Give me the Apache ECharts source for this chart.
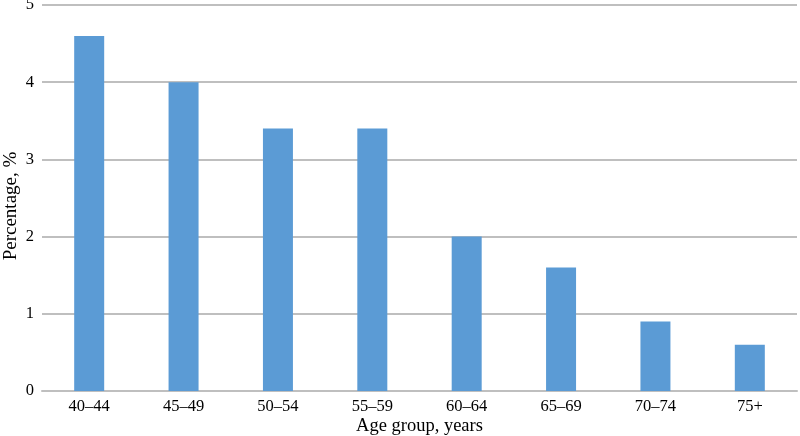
<!DOCTYPE html>
<html><head><meta charset="utf-8">
<script src="https://cdn.jsdelivr.net/npm/echarts@6/dist/echarts.min.js"></script>
<style>html,body{margin:0;padding:0;background:#fff}#c{width:800px;height:436px}</style>
</head><body><div id="c"></div>
<script>
const categories = ["40–44","45–49","50–54","55–59","60–64","65–69","70–74","75+"];
const values = [4.6, 4.0, 3.4, 3.4, 2.0, 1.6, 0.9, 0.6];
const yTicks = [0,1,2,3,4,5];
const font = "'Liberation Serif', 'Times New Roman', serif";
const chart = echarts.init(document.getElementById('c'), null, {renderer:'canvas'});
chart.setOption({
  animation:false,
  grid:{left:42,right:3,top:5,bottom:45,containLabel:false,outerBoundsMode:'none'},
  xAxis:{type:'category',data:categories,
    name:'Age group, years',nameLocation:'middle',nameGap:26,nameMoveOverlap:false,
    nameTextStyle:{fontFamily:font,fontSize:18.5,color:'#000'},
    axisLine:{lineStyle:{color:'#BFBFBF',width:2}},
    axisTick:{show:false},
    axisLabel:{fontFamily:font,fontSize:16.5,color:'#000',margin:7}},
  yAxis:{type:'value',min:yTicks[0],max:yTicks[yTicks.length-1],interval:1,
    name:'Percentage, %',nameLocation:'middle',nameGap:21,nameRotate:90,nameMoveOverlap:false,
    nameTextStyle:{fontFamily:font,fontSize:19,color:'#000',padding:[0,16,0,0]},
    axisLine:{show:false},axisTick:{show:false},
    axisLabel:{fontFamily:font,fontSize:16.5,color:'#000',margin:8}},
  series:[{type:'bar',data:values,barWidth:30,
    itemStyle:{color:'#5B9BD5'}}]
});
chart.setOption({yAxis:{splitLine:{lineStyle:{color:'#BFBFBF',width:2}}}});
</script></body></html>
